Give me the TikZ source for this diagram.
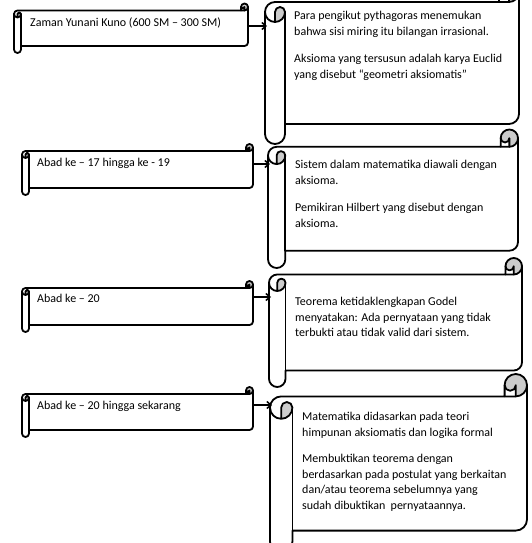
\documentclass[tikz,border=0pt]{standalone}
\usepackage{fontspec}
\setmainfont{Carlito}
\usetikzlibrary{arrows.meta}
\definecolor{curlgray}{gray}{0.8}
% horizontal scroll: #1 left, #2 top, #3 width, #4 height, #5 curl size
\newcommand\hscroll[5]{%
\begin{scope}[shift={(#1,#2)}]
\pgfmathsetmacro\sR{#3}%
\pgfmathsetmacro\sc{#5}%
\pgfmathsetmacro\sch{#5/2}%
\pgfmathsetmacro\scq{#5/4}%
\pgfmathsetmacro\sxa{#3-#5}%
\pgfmathsetmacro\sxb{#3-#5/2}%
\pgfmathsetmacro\sya{1.5*#5}%
\pgfmathsetmacro\syb{2*#5}%
\pgfmathsetmacro\syc{#4-1.5*#5}%
\pgfmathsetmacro\syd{#4-#5}%
\pgfmathsetmacro\sye{#4-#5/2}%
\fill[white] (0,\sya) arc[start angle=180,delta angle=90,radius=\sch] -- (\sxa,\sc) -- (\sxa,\sch)
  arc[start angle=180,delta angle=180,radius=\sch] -- (\sR,\syc)
  arc[start angle=0,delta angle=90,radius=\sch] -- (\sc,\syd) -- (\sc,\sye)
  arc[start angle=0,delta angle=180,radius=\sch] -- cycle;
\fill[white] (\sxb,\sch) circle[radius=\sch];
\fill[curlgray] (\sxb,\sc) arc[start angle=90,delta angle=-270,radius=\sch]
  arc[start angle=180,delta angle=-180,radius=\scq] -- cycle;
\fill[curlgray] (\sch,\syb) arc[start angle=90,delta angle=-90,radius=\sch]
  arc[start angle=0,delta angle=-180,radius=\scq] -- cycle;
\draw[scrollline] (0,\sya) arc[start angle=180,delta angle=90,radius=\sch] -- (\sxa,\sc) -- (\sxa,\sch)
  arc[start angle=180,delta angle=180,radius=\sch] -- (\sR,\syc)
  arc[start angle=0,delta angle=90,radius=\sch] -- (\sc,\syd) -- (\sc,\sye)
  arc[start angle=0,delta angle=180,radius=\sch] -- cycle;
\draw[scrollline] (\sxa,\sc) -- (\sxb,\sc) arc[start angle=90,delta angle=-90,radius=\sch];
\draw[scrollline] (\sxb,\sc) -- (\sxb,\sch) arc[start angle=0,delta angle=180,radius=\scq];
\draw[scrollline] (\sch,\syb) -- (\sch,\sya) arc[start angle=180,delta angle=180,radius=\scq]
  arc[start angle=0,delta angle=180,radius=\sch];
\draw[scrollline] (\sc,\sya) -- (\sc,\syd);
\end{scope}}
\begin{document}
\begin{tikzpicture}[x=1pt,y=-1pt,
  scrollline/.style={line width=1.8pt,line join=round,line cap=round},
  txt/.style={font=\fontsize{12}{15.5}\selectfont,align=left,inner sep=0pt,anchor=north west,text=black},
  arr/.style={line width=1.5pt,-{Straight Barb[length=4pt,width=7pt]}}]
\useasboundingbox (0,0) rectangle (532,543);
\clip (0,0) rectangle (532,543);
\fill[white] (0,0) rectangle (532,543);
% left scrolls
\hscroll{14}{3.5}{234}{49.5}{7}
\hscroll{22}{144}{231}{51}{7}
\hscroll{22}{281}{231}{51}{7}
\hscroll{22}{387}{231}{50}{7}
% right scrolls
\hscroll{265}{-18}{254}{162}{20}
\hscroll{268}{129.5}{250}{138.5}{17.3}
\hscroll{269}{258}{253}{129}{16.5}
\hscroll{270}{374}{257}{179}{22.4}
% texts
\node[txt] (l1) at (30,15.15) {\strut Zaman Yunani Kuno (600 SM – 300 SM)};
\node[txt] (l2) at (37,155.85) {\strut Abad ke – 17 hingga ke - 19};
\node[txt] (l3) at (37,291.5) {\strut Abad ke – 20};
\node[txt] (l4) at (37,398.5) {\strut Abad ke – 20 hingga sekarang};
\node[txt] (r1) at (294,8.5) {\strut Para pengikut pythagoras menemukan\\bahwa sisi miring itu bilangan irrasional.\\[12pt]Aksioma yang tersusun adalah karya Euclid\\yang disebut “geometri aksiomatis”};
\node[txt] (r2) at (295,157.5) {\strut Sistem dalam matematika diawali dengan\\aksioma.\\[12pt]Pemikiran Hilbert yang disebut dengan\\aksioma.};
\node[txt] (r3) at (295,294.9) {\strut Teorema ketidaklengkapan Godel\\menyatakan: Ada pernyataan yang tidak\\terbukti atau tidak valid dari sistem.};
\node[txt] (r4) at (302,409.9) {\strut Matematika didasarkan pada teori\\himpunan aksiomatis dan logika formal\\[11pt]Membuktikan teorema dengan\\berdasarkan pada postulat yang berkaitan\\dan/atau teorema sebelumnya yang\\sudah dibuktikan~ pernyataannya.};
% arrows
\coordinate (a1s) at (248,26);  \coordinate (a1e) at (267,26);
\coordinate (a2s) at (253,164); \coordinate (a2e) at (270,164);
\coordinate (a3s) at (253,297); \coordinate (a3e) at (271,297);
\coordinate (a4s) at (253,405); \coordinate (a4e) at (272,405);
\draw[arr] (a1s) -- (a1e);
\draw[arr] (a2s) -- (a2e);
\draw[arr] (a3s) -- (a3e);
\draw[arr] (a4s) -- (a4e);
\end{tikzpicture}
\end{document}
